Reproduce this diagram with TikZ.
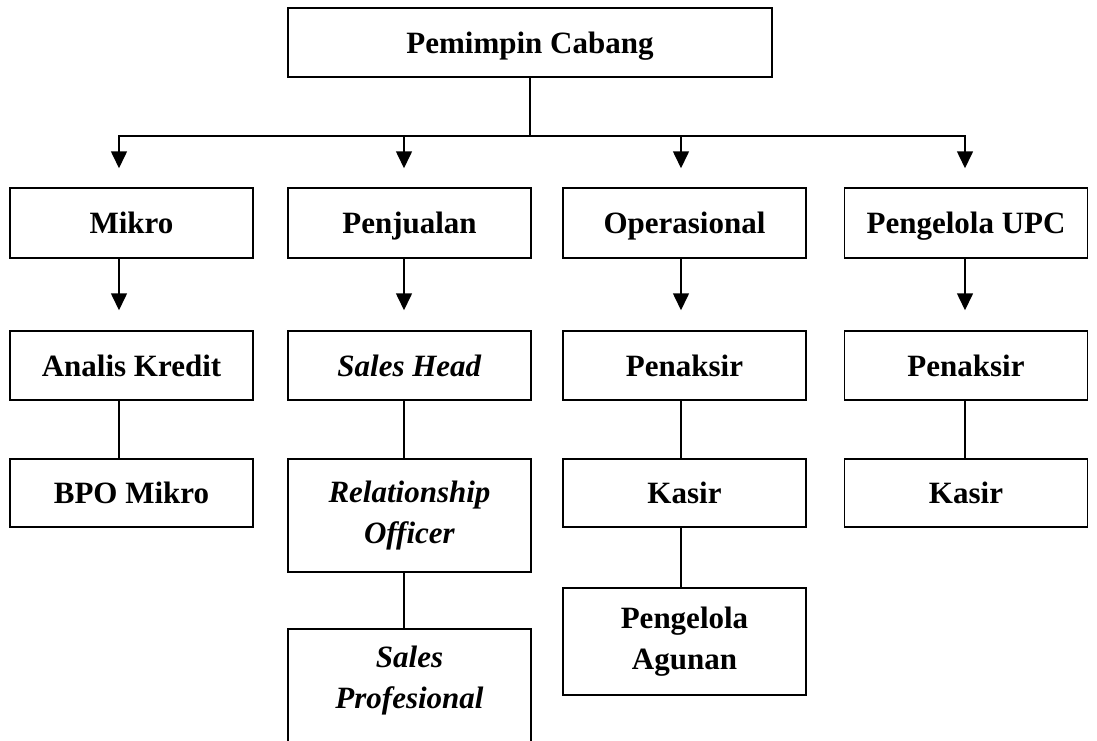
\documentclass[tikz,border=0pt]{standalone}
\usepackage{fontspec}
\setmainfont{Liberation Serif}
\usetikzlibrary{arrows.meta}
\tikzset{
  box/.style={draw, line width=1.5pt, minimum width=243pt, inner sep=0pt,
    align=center, font=\fontsize{31}{41}\selectfont\bfseries},
  one/.style={text height=28pt, text depth=7pt},
  link/.style={line width=1.6pt},
  arr/.style={line width=1.6pt, -{Triangle[width=16pt,length=17pt]}, shorten >=19pt}
}
\begin{document}
\begin{tikzpicture}[x=1pt,y=-1pt]
	\clip (0,0) rectangle (1097,740);

	%%top
	\node[box, one, minimum width=484pt, minimum height=69pt] (pimpinan) at (530,42.5) {Pemimpin Cabang};

	%%bus points
	\coordinate (k1) at (119,136);
	\coordinate (k2) at (404,136);
	\coordinate (k3) at (681,136);
	\coordinate (k4) at (965,136);

	%%first row
	\node[box, one, minimum height=70pt] (mikro) at (131.5,223) {Mikro};
	\node[box, one, minimum height=70pt] (penjualan) at (409.5,223) {Penjualan};
	\node[box, one, minimum height=70pt] (operasional) at (684.5,223) {Operasional};
	\node[box, one, minimum height=70pt] (upc) at (966,223) {Pengelola UPC};

	%%second row
	\node[box, one, minimum height=69pt] (analis) at (131.5,365.5) {Analis Kredit};
	\node[box, one, minimum height=69pt] (saleshead) at (409.5,365.5) {\textit{Sales Head}};
	\node[box, one, minimum height=69pt] (penaksir) at (684.5,365.5) {Penaksir};
	\node[box, one, minimum height=69pt] (penaksirupc) at (966,365.5) {Penaksir};

	%%third row
	\node[box, one, minimum height=68pt] (bpo) at (131.5,493) {BPO Mikro};
	\node[box, minimum height=113pt] (ro) at (409.5,515.5) {\textit{Relationship}\\\textit{Officer}};
	\node[box, one, minimum height=68pt] (kasir) at (684.5,493) {Kasir};
	\node[box, one, minimum height=68pt] (kasirupc) at (966,493) {Kasir};

	%%last ones
	\node[box, minimum height=107pt] (agunan) at (684.5,641.5) {Pengelola\\Agunan};
	\node[box, minimum height=150pt, anchor=north] (sprof) at (409.5,628) {};
	\node[box, draw=none] (sproftext) at (409.5,681) {\textit{Sales}\\\textit{Profesional}};

	%%from the top to the bus
	\draw[link] (pimpinan.south) -- (pimpinan.south |- k1);
	\draw[link, line width=2.2pt, line cap=rect] (k1) -- (k4);
	\draw[arr] (k1) -- (mikro.north -| k1);
	\draw[arr] (k2) -- (penjualan.north -| k2);
	\draw[arr] (k3) -- (operasional.north -| k3);
	\draw[arr] (k4) -- (upc.north -| k4);

	%%first row down
	\draw[arr, shorten >=20pt] (mikro.south -| k1) -- (analis.north -| k1);
	\draw[arr, shorten >=20pt] (penjualan.south -| k2) -- (saleshead.north -| k2);
	\draw[arr, shorten >=20pt] (operasional.south -| k3) -- (penaksir.north -| k3);
	\draw[arr, shorten >=20pt] (upc.south -| k4) -- (penaksirupc.north -| k4);

	%%plain lines
	\draw[link] (analis.south -| k1) -- (bpo.north -| k1);
	\draw[link] (saleshead.south -| k2) -- (ro.north -| k2);
	\draw[link] (ro.south -| k2) -- (sprof.north -| k2);
	\draw[link] (penaksir.south -| k3) -- (kasir.north -| k3);
	\draw[link] (kasir.south -| k3) -- (agunan.north -| k3);
	\draw[link] (penaksirupc.south -| k4) -- (kasirupc.north -| k4);
\end{tikzpicture}
\end{document}
